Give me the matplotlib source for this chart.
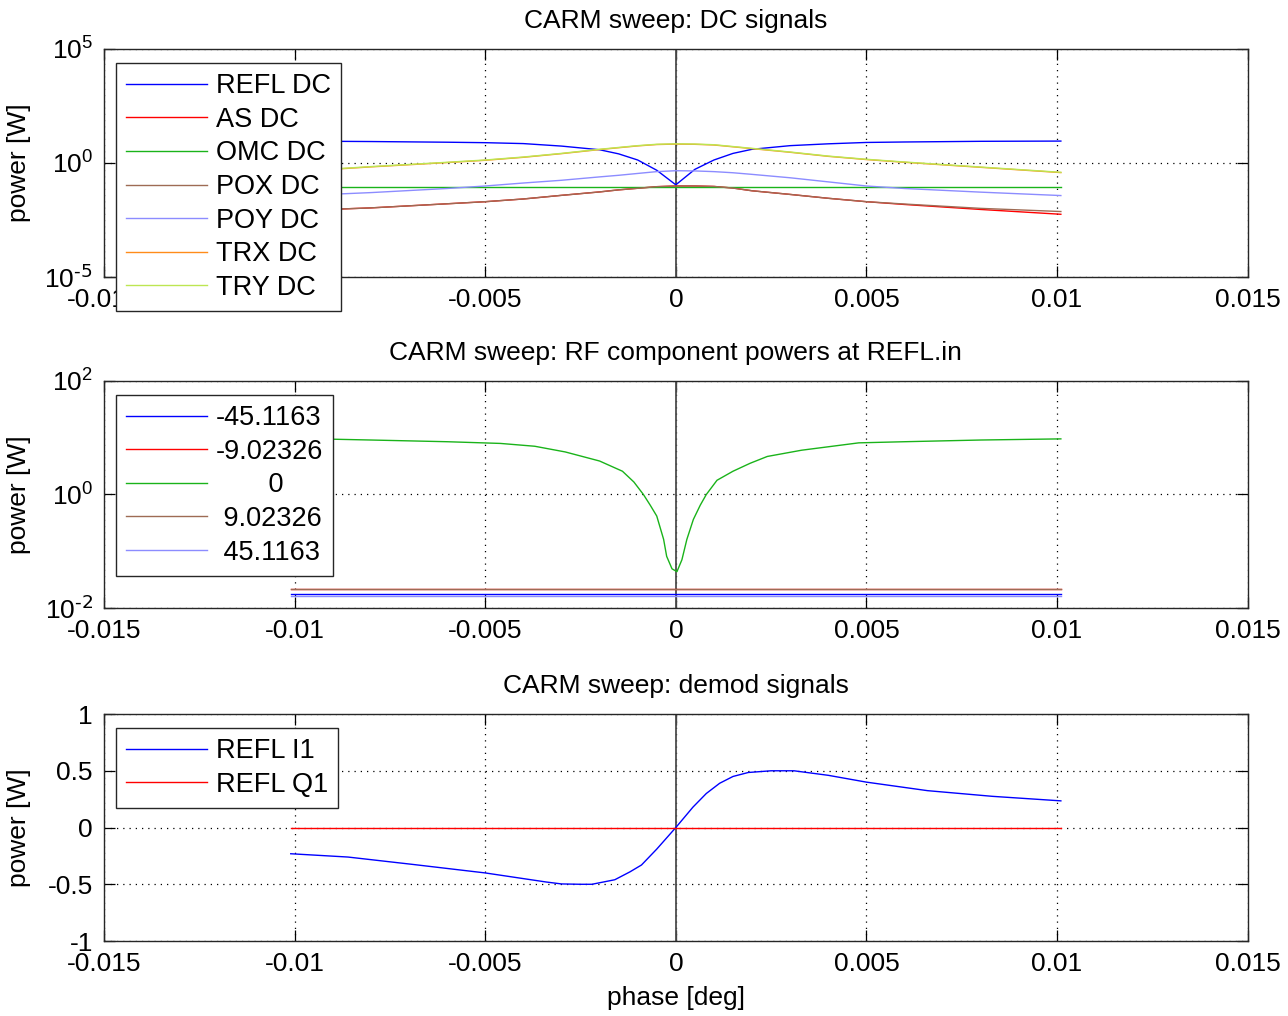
import matplotlib
matplotlib.use("Agg")
import matplotlib.pyplot as plt
from matplotlib.ticker import FixedLocator, NullLocator

plt.rcParams["font.family"] = ["Liberation Sans", "DejaVu Sans"]
plt.rcParams["font.size"] = 19
plt.rcParams["mathtext.default"] = "regular"

# ---- panel 1: DC signals (power in W) ----
dc_phase = [-0.0101, -0.008, -0.006, -0.005, -0.004, -0.003, -0.002, -0.0015, -0.001, -0.0005, 0,
            0.0005, 0.001, 0.0015, 0.002, 0.003, 0.004, 0.005, 0.006, 0.008, 0.0101]
refl_dc = [9.12, 8.71, 8.13, 7.76, 7.08, 5.50, 3.80, 2.51, 1.35, 0.479, 0.110,
           0.525, 1.35, 2.63, 3.98, 5.75, 6.92, 7.94, 8.32, 8.91, 9.12]
as_dc = [0.00794, 0.0107, 0.0162, 0.0200, 0.0263, 0.0380, 0.0537, 0.0661, 0.0776, 0.0912, 0.0977,
         0.0977, 0.0933, 0.0794, 0.0603, 0.0417, 0.0282, 0.0200, 0.0151, 0.00912, 0.00562]
omc_dc = [0.091, 0.091, 0.091, 0.091, 0.091, 0.091, 0.091, 0.091, 0.091, 0.091, 0.091,
          0.091, 0.091, 0.091, 0.091, 0.091, 0.091, 0.091, 0.091, 0.091, 0.091]
pox_dc = [0.00794, 0.0107, 0.0162, 0.0200, 0.0263, 0.0380, 0.0537, 0.0661, 0.0776, 0.0912, 0.0977,
          0.0977, 0.0933, 0.0794, 0.0603, 0.0417, 0.0282, 0.0200, 0.0158, 0.0102, 0.00741]
poy_dc = [0.0355, 0.0501, 0.0759, 0.0977, 0.132, 0.174, 0.245, 0.288, 0.347, 0.417, 0.457,
          0.447, 0.417, 0.372, 0.316, 0.224, 0.148, 0.0977, 0.0759, 0.0525, 0.0372]
trx_dc = [0.405, 0.672, 1.04, 1.31, 1.77, 2.56, 3.87, 4.66, 5.60, 6.43, 6.73,
          6.58, 6.14, 5.11, 4.25, 2.94, 1.95, 1.41, 1.07, 0.643, 0.378]
try_dc = [0.417, 0.692, 1.07, 1.35, 1.82, 2.63, 3.98, 4.79, 5.75, 6.61, 6.92,
          6.76, 6.31, 5.25, 4.37, 3.02, 2.00, 1.45, 1.10, 0.661, 0.389]
dc_labels = ["REFL DC", "AS DC", "OMC DC", "POX DC", "POY DC", "TRX DC", "TRY DC"]

# ---- panel 2: RF component powers at REFL.in ----
rf_phase = [-0.0101, -0.008, -0.006, -0.0046, -0.0037, -0.0029, -0.002, -0.0014, -0.0011,
            -0.00085, -0.00067, -0.0005, -0.00032, -0.00024, -0.0001, 0.00003, 0.00016,
            0.00029, 0.00046, 0.00064, 0.0008, 0.00108, 0.0015, 0.00195, 0.0024, 0.0033,
            0.0048, 0.006, 0.008, 0.0101]
carrier = [9.77, 9.12, 8.51, 7.94, 7.08, 5.62, 3.89, 2.57, 1.66,
           1.0, 0.646, 0.417, 0.162, 0.0813, 0.049, 0.0437, 0.0708,
           0.162, 0.363, 0.646, 1.0, 1.78, 2.57, 3.55, 4.68, 6.03,
           8.13, 8.51, 9.12, 9.55]
sb_phase = [-0.0101, 0.0101]
sb_m45 = [0.0174, 0.0174]
sb_m9 = [0.022, 0.022]
sb_p9 = [0.022, 0.022]
sb_p45 = [0.016, 0.016]
rf_labels = ["-45.1163", "-9.02326", "       0", " 9.02326", " 45.1163"]

# ---- panel 3: demod signals ----
demod_phase = [-0.0101, -0.0086, -0.0069, -0.005, -0.0034, -0.003, -0.0025, -0.0022, -0.0016,
               -0.0012, -0.0009, -0.0005, 0, 0.00045, 0.0008, 0.00115, 0.0015, 0.0019, 0.0025,
               0.0031, 0.004, 0.005, 0.0066, 0.0083, 0.0101]
refl_i1 = [-0.231, -0.26, -0.325, -0.40, -0.48, -0.497, -0.50, -0.50, -0.46,
           -0.39, -0.33, -0.19, 0, 0.18, 0.30, 0.39, 0.45, 0.485, 0.50,
           0.50, 0.46, 0.40, 0.325, 0.275, 0.235]
q_phase = [-0.0101, 0.0101]
refl_q1 = [0, 0]
demod_labels = ["REFL I1", "REFL Q1"]

BLUE = (0, 0, 1)
RED = (1, 0, 0)
GREEN = (0.1, 0.7, 0.1)
BROWN = (0.62, 0.42, 0.33)
LBLUE = (0.55, 0.55, 1)
ORANGE = (1, 0.55, 0.1)
YGREEN = (0.74, 0.9, 0.32)

fig = plt.figure(figsize=(12.88, 10.16), dpi=100)
ax1 = fig.add_axes([0.0807, 0.7274, 0.888, 0.2244])
ax2 = fig.add_axes([0.0807, 0.4016, 0.888, 0.2234])
ax3 = fig.add_axes([0.0807, 0.0738, 0.888, 0.2234])

lw = 1.0
for data, col, lab in zip([refl_dc, as_dc, omc_dc, pox_dc, poy_dc, trx_dc, try_dc],
                          [BLUE, RED, GREEN, BROWN, LBLUE, ORANGE, YGREEN], dc_labels):
    ax1.plot(dc_phase, data, color=col, lw=lw, label=lab)
ax1.set_yscale("log")
ax1.set_ylim(1e-5, 1e5)
ax1.yaxis.set_major_locator(FixedLocator([1e-5, 1, 1e5]))
ax1.set_yticklabels([r"$10^{\text{-5}}$", "$10^{0}$", "$10^{5}$"])
ax1.set_title("CARM sweep: DC signals", fontsize=19, pad=15)

for xs, data, col, lab in zip([sb_phase, sb_phase, rf_phase, sb_phase, sb_phase],
                              [sb_m45, sb_m9, carrier, sb_p9, sb_p45],
                              [BLUE, RED, GREEN, BROWN, LBLUE], rf_labels):
    ax2.plot(xs, data, color=col, lw=lw, label=lab)
ax2.set_yscale("log")
ax2.set_ylim(1e-2, 1e2)
ax2.yaxis.set_major_locator(FixedLocator([1e-2, 1, 1e2]))
ax2.set_yticklabels([r"$10^{\text{-2}}$", "$10^{0}$", "$10^{2}$"])
ax2.set_title("CARM sweep: RF component powers at REFL.in", fontsize=19, pad=15)

ax3.plot(demod_phase, refl_i1, color=BLUE, lw=lw, label=demod_labels[0])
ax3.plot(q_phase, refl_q1, color=RED, lw=lw, label=demod_labels[1])
ax3.set_ylim(-1, 1)
ax3.set_yticks([-1, -0.5, 0, 0.5, 1])
ax3.set_yticklabels(["-1", "-0.5", "0", "0.5", "1"])
ax3.set_title("CARM sweep: demod signals", fontsize=19, pad=15)
ax3.set_xlabel("phase [deg]", labelpad=7)

xt = [-0.015, -0.01, -0.005, 0, 0.005, 0.01, 0.015]
xtl = ["-0.015", "-0.01", "-0.005", "0", "0.005", "0.01", "0.015"]
for ax in (ax1, ax2, ax3):
    ax.set_xlim(-0.015, 0.015)
    ax.set_xticks(xt)
    ax.set_xticklabels(xtl)
    ax.yaxis.set_minor_locator(NullLocator())
    ax.tick_params(direction="in", length=8, width=0.9, top=True, right=True, pad=8,
                   labelsize=19, colors="black")
    ax.grid(True, which="major", color="black", linestyle=(0, (1, 4)), lw=0.9)
    ax.axvline(0, color="0.3", lw=1.3, zorder=1.5)
    ax.set_ylabel("power [W]")
    ax.yaxis.set_label_coords(-0.064, 0.5)
    for s in ax.spines.values():
        s.set_color("0.15")
        s.set_linewidth(1.0)
    ax.set_axisbelow(True)

legend_kw = dict(loc="upper left", bbox_to_anchor=(0.0105, 0.9386), borderaxespad=0,
                 fancybox=False, framealpha=1, edgecolor="0.15", fontsize=19.5,
                 handlelength=3.0, handletextpad=0.3, labelspacing=0.28, borderpad=0.38)
for ax in (ax1, ax2, ax3):
    leg = ax.legend(**legend_kw)
    leg.get_frame().set_linewidth(1.0)
    leg.set_zorder(10)

fig.savefig("out.png", dpi=100)
